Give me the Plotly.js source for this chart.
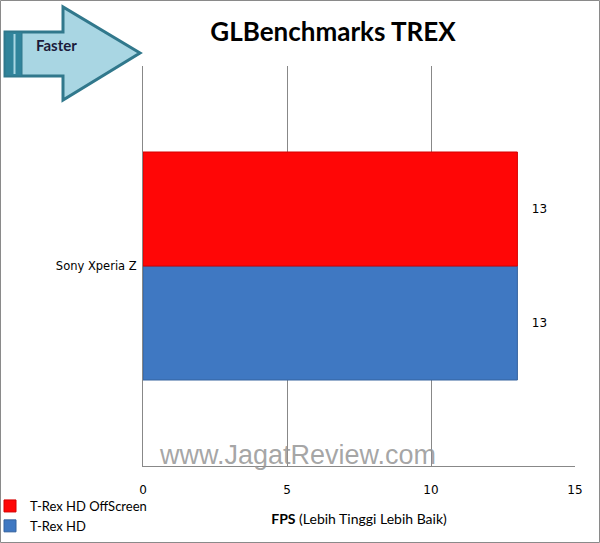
<!DOCTYPE html>
<html>
<head>
<meta charset="utf-8">
<script src="https://cdn.plot.ly/plotly-3.0.1.min.js"></script>
<style>html,body{margin:0;padding:0;background:#fff;}#chart{width:600px;height:543px;}</style>
</head>
<body>
<div id="chart"></div>
<script>
var categories = ['Sony Xperia Z'];
var seriesNames = ['T-Rex HD', 'T-Rex HD OffScreen'];
var trexHD = [13];
var trexHDOffscreen = [13];
var xTicks = [0, 5, 10, 15];

var W = 600, H = 543;
var M = {l: 143, r: 25, t: 66, b: 77, autoexpand: false};
var pw = W - M.l - M.r, ph = H - M.t - M.b;
function px(x) { return (x - M.l) / pw; }
function py(y) { return (H - M.b - y) / ph; }

var traces = [
  {type: 'bar', orientation: 'h', name: seriesNames[0], y: categories, x: trexHD,
   marker: {color: '#3f78c2', line: {color: '#35639e', width: 1}},
   texttemplate: '\u00a0\u00a0\u00a0%{x}', textposition: 'outside', cliponaxis: false,
   textfont: {family: 'DejaVu Sans', size: 12, color: '#000'}},
  {type: 'bar', orientation: 'h', name: seriesNames[1], y: categories, x: trexHDOffscreen,
   marker: {color: '#ff0606', line: {color: '#d40000', width: 1}},
   texttemplate: '\u00a0\u00a0\u00a0%{x}', textposition: 'outside', cliponaxis: false,
   textfont: {family: 'DejaVu Sans', size: 12, color: '#000'}}
];

function pathFrom(pts) {
  return 'M' + pts.map(function(p){ return px(p[0]) + ',' + py(p[1]); }).join(' L') + ' Z';
}

var arrowPts = [[5,32],[63,32],[63,7],[140,53],[63,100],[63,76],[5,76]];

var layout = {
  width: W, height: H,
  margin: M,
  paper_bgcolor: '#fff', plot_bgcolor: '#fff',
  barmode: 'group', bargap: 0.43, bargroupgap: 0,
  showlegend: true,
  title: {text: '<b>GLBenchmarks TREX</b>', font: {family: 'Lato', size: 26, color: '#000'},
          x: 333 / W, xanchor: 'center', y: 1 - 32 / H, yanchor: 'middle'},
  xaxis: {range: [0, 15], tickvals: xTicks, showgrid: true, gridcolor: '#888', gridwidth: 1,
          zeroline: false, showline: true, linecolor: '#888', ticks: '', fixedrange: true,
          automargin: false, ticklabelstandoff: 13,
          tickfont: {family: 'DejaVu Sans', size: 12, color: '#000'},
          title: {text: '<b>FPS</b> (Lebih Tinggi Lebih Baik)', font: {family: 'Lato', size: 14, color: '#000'}, standoff: 17}},
  yaxis: {showgrid: false, showline: true, linecolor: '#888', ticks: '', fixedrange: true,
          automargin: false,
          tickfont: {family: 'DejaVu Sans', size: 11.5, color: '#000'}, ticklabelstandoff: 3},
  legend: {xref: 'container', yref: 'container', x: 0, xanchor: 'left', y: 1 - 491 / H, yanchor: 'top',
           traceorder: 'reversed', indentation: -10,
           font: {family: 'Lato', size: 13, color: '#000'}, bgcolor: 'rgba(0,0,0,0)', tracegroupgap: 4},
  shapes: [
    {type: 'rect', xref: 'paper', yref: 'paper', x0: px(0.5), x1: px(599.5), y0: py(0.5), y1: py(542.5),
     line: {color: '#8a8a8a', width: 1}, layer: 'below'},
    {type: 'path', xref: 'paper', yref: 'paper', path: pathFrom(arrowPts),
     fillcolor: '#a9d6e3', line: {color: '#31788c', width: 3}},
    {type: 'rect', xref: 'paper', yref: 'paper', x0: px(5), x1: px(22), y0: py(32), y1: py(76),
     fillcolor: '#31849b', line: {color: '#31788c', width: 1}},
    {type: 'line', xref: 'paper', yref: 'paper', x0: px(14.5), x1: px(14.5), y0: py(34), y1: py(74),
     line: {color: '#a9d6e3', width: 2}}
  ],
  annotations: [
    {text: '<b>Faster</b>', xref: 'paper', yref: 'paper', x: px(56), y: py(45), showarrow: false,
     xanchor: 'center', yanchor: 'middle',
     font: {family: 'Lato', size: 15, color: '#1b1b3b'}},
    {text: 'www.JagatReview.com', xref: 'paper', yref: 'paper', x: px(297), y: py(455), showarrow: false,
     xanchor: 'center', yanchor: 'middle',
     font: {family: 'Liberation Sans', size: 27, color: 'rgba(150,150,150,0.85)'}}
  ]
};

Plotly.newPlot('chart', traces, layout, {displayModeBar: false, staticPlot: true});
</script>
</body>
</html>
